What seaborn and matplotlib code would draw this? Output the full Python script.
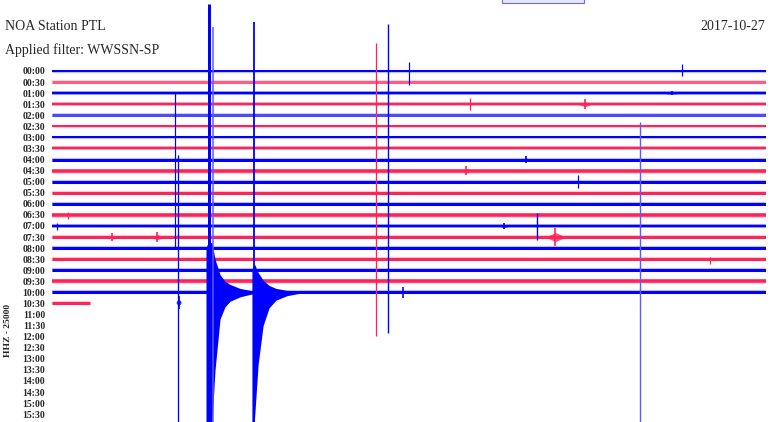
import numpy as np
import pandas as pd
import matplotlib
matplotlib.use("Agg")
import matplotlib.pyplot as plt
from matplotlib.patches import Rectangle
import seaborn as sns

# ---------------- data ----------------
# helicorder rows: 30-minute lines, x in minutes (0-30) within each row
row_labels = ["00:00", "00:30", "01:00", "01:30", "02:00", "02:30", "03:00", "03:30",
              "04:00", "04:30", "05:00", "05:30", "06:00", "06:30", "07:00", "07:30",
              "08:00", "08:30", "09:00", "09:30", "10:00", "10:30", "11:00", "11:30",
              "12:00", "12:30", "13:00", "13:30", "14:00", "14:30", "15:00", "15:30"]
n_traces = 22                       # traces recorded up to 10:30
trace_end = [30.0] * 21 + [1.6]     # the 10:30 line stops early (minutes)
# apparent trace thickness (noise level), pixels
trace_noise = [2.0, 3.0, 2.5, 2.5, 3.0, 2.0, 2.0, 2.5, 3.0, 3.5, 3.0,
               3.0, 3.0, 3.5, 2.5, 3.0, 3.0, 3.0, 3.0, 3.5, 3.0, 3.0]
trace_light = [False, True, False, False, True, False, False, False, False, False, False,
               False, False, False, False, False, False, False, False, False, False, False]

# long spikes: minute, top (row units), bottom (row units), color key, width px
spike_min = [5.15, 5.28, 6.60, 6.76, 8.49, 13.61, 14.12, 15.0, 26.47, 24.71,
             20.38, 22.10, 17.56, 14.75, 27.65, 0.21, 0.67]
spike_top = [1.90, 7.59, -6.05, -3.97, -4.43, -2.53, -4.25, -0.81, -0.63, 4.61,
             12.83, 9.40, 2.44, 19.51, 16.80, 13.73, 12.74]
spike_bot = [16.0, 31.7, 31.7, 31.7, 31.7, 23.94, 23.67, 1.26, 0.45, 31.7,
             15.27, 10.57, 3.52, 20.5, 17.43, 14.36, 13.37]
spike_col = ["b", "b", "b", "bl", "b", "r", "b", "b", "b", "bl",
             "b", "b", "r", "b", "r", "b", "r"]
spike_w = [1.2, 1.3, 3.0, 1.5, 1.8, 1.3, 1.4, 1.2, 1.2, 1.4,
           1.4, 1.2, 1.2, 1.6, 1.2, 1.2, 1.2]

# short bursts: start/end minute, row, half height (rows), color key
burst_x0 = [20.84, 4.20, 2.35, 17.27, 18.82, 19.71, 25.76, 22.18, 5.22]
burst_x1 = [21.47, 4.66, 2.73, 17.56, 19.16, 20.08, 26.30, 22.61, 5.42]
burst_row = [15, 15, 15, 9, 14, 8, 2, 3, 20.9]
burst_h = [0.8, 0.45, 0.35, 0.4, 0.3, 0.28, 0.2, 0.45, 0.6]
burst_col = ["r", "r", "r", "r", "b", "b", "b", "r", "b"]

# coda envelopes of the two large quakes (on the 10:00 line, row 20)
coda1_min = [6.47, 6.55, 6.72, 6.85, 7.06, 7.27, 7.48, 7.90, 8.32, 8.70]
coda1_up = [-4.0, -4.5, -4.5, -3.0, -1.6, -1.0, -0.72, -0.36, -0.18, -0.05]
coda1_dn = [11.7, 11.7, 11.7, 7.0, 2.4, 1.3, 0.8, 0.4, 0.18, 0.05]
coda2_min = [8.40, 8.50, 8.66, 8.87, 9.12, 9.41, 9.87, 10.3, 10.7]
coda2_up = [-2.0, -2.6, -1.8, -1.1, -0.63, -0.36, -0.18, -0.08, -0.03]
coda2_dn = [11.7, 11.7, 6.5, 3.0, 1.4, 0.7, 0.3, 0.12, 0.03]
coda_row = 20

station = "NOA Station PTL"
filter_txt = "Applied filter: WWSSN-SP"
date_txt = "2017-10-27"
ylabel_txt = "HHZ - 25000"

# ---------------- style ----------------
BLUE = "#0000ff"
BLUE_L = "#4a4aff"
RED = "#ff2458"
RED_L = "#ff5c82"
cmap = {"b": BLUE, "bl": "#5a5aff", "r": RED}

sns.set_theme(style="white")
plt.rcParams["font.family"] = ["Liberation Serif", "DejaVu Serif"]

W, H = 770, 422
fig = plt.figure(figsize=(W / 100, H / 100), dpi=100)
fig.patch.set_facecolor("white")
ax = fig.add_axes([52 / W, 0, 714 / W, 1])
ax.set_facecolor("white")

px_per_row = 11.07
top_row = -71 / px_per_row
bot_row = (H - 71) / px_per_row
ax.set_xlim(0, 30)
ax.set_ylim(bot_row, top_row)

# traces: a faint fuzzy halo for the noise and a solid body line
rows = []
for i in range(n_traces):
    rows.append({"trace": i, "minute": 0.0, "row": i})
    rows.append({"trace": i, "minute": trace_end[i], "row": i})
df = pd.DataFrame(rows)
for i in range(n_traces):
    if i % 2 == 0:
        c = BLUE_L if trace_light[i] else BLUE
    else:
        c = RED_L if trace_light[i] else RED
    sub = df[df.trace == i]
    sns.lineplot(data=sub, x="minute", y="row", color=c, alpha=0.25,
                 lw=(trace_noise[i] + 1.2) * 0.72, ax=ax, legend=False,
                 estimator=None, solid_capstyle="butt")
    sns.lineplot(data=sub, x="minute", y="row", color=c,
                 lw=trace_noise[i] * 0.72, ax=ax, legend=False,
                 estimator=None, solid_capstyle="butt")

# coda envelopes
ax.fill_between(coda1_min, [coda_row + u for u in coda1_up],
                [coda_row + d for d in coda1_dn], color=BLUE, lw=0, zorder=4)
ax.fill_between(coda2_min, [coda_row + u for u in coda2_up],
                [coda_row + d for d in coda2_dn], color=BLUE, lw=0, zorder=4)

# spikes
for m, t, b, c, w in zip(spike_min, spike_top, spike_bot, spike_col, spike_w):
    ax.vlines(m, t, b, color=cmap[c], lw=w * 0.72, zorder=5)

# bursts: a smeared core with a central stroke
for x0, x1, r, h, c in zip(burst_x0, burst_x1, burst_row, burst_h, burst_col):
    ax.fill_between([x0, (x0 + x1) / 2, x1], [r - h * 0.15, r - h * 0.5, r - h * 0.15],
                    [r + h * 0.15, r + h * 0.5, r + h * 0.15], color=cmap[c],
                    lw=0, alpha=0.8, zorder=4)
    ax.vlines((x0 + x1) / 2, r - h, r + h, color=cmap[c], lw=1.2, zorder=4)

# ticks
ax.set_yticks(range(len(row_labels)))
ax.set_yticklabels(row_labels, fontsize=7, fontweight="bold")
ax.tick_params(axis="y", length=0, pad=5)
ax.set_xticks([])
ax.set_xlabel("")
ax.set_ylabel("")
for s in ax.spines.values():
    s.set_visible(False)

# texts
fig.text(5 / W, 1 - 27 / H, station, fontsize=10, va="center", ha="left")
fig.text(5 / W, 1 - 50 / H, filter_txt, fontsize=10, va="center", ha="left")
fig.text(765 / W, 1 - 27 / H, date_txt, fontsize=10, va="center", ha="right")
fig.text(8 / W, 1 - 330 / H, ylabel_txt, fontsize=6.8, fontweight="bold",
         rotation=90, va="center", ha="center")

# partial link box at the very top
fig.patches.append(Rectangle((502 / W, 1 - 3 / H), 82 / W, 5 / H,
                             transform=fig.transFigure, facecolor="#e6e6ff",
                             edgecolor="#6a6aff", lw=0.8))

fig.savefig("out.png", dpi=100, facecolor="white")
